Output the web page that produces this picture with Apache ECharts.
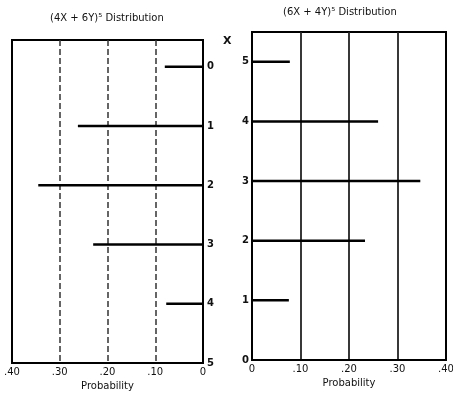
<!DOCTYPE html>
<html><head><meta charset="utf-8">
<script src="https://cdn.jsdelivr.net/npm/echarts@6/dist/echarts.min.js"></script>
<style>html,body{margin:0;padding:0;background:#fff}#c{width:453px;height:394px}</style>
</head><body><div id="c"></div>
<script>
var categories = [0, 1, 2, 3, 4, 5];
var leftValues = [0.08, 0.262, 0.345, 0.23, 0.077, 0];
var rightValues = [0, 0.076, 0.233, 0.347, 0.26, 0.078];
var xTicks = [0, 0.1, 0.2, 0.3, 0.4];
var leftTitle = '(4X + 6Y)\u2075 Distribution';
var rightTitle = '(6X + 4Y)\u2075 Distribution';
var yName = 'X';

var font = 'DejaVu Sans';
function fmtX(v){ return v === 0 ? '0' : '.' + Math.round(v*100); }
function seg(){
  return function(params, api){
    var a = api.coord([0, api.value(1)]);
    var b = api.coord([api.value(0), api.value(1)]);
    return {type:'line', shape:{x1:a[0],y1:a[1],x2:b[0],y2:b[1]}, style:{stroke:'#000', lineWidth:2.5}};
  };
}
function mk(vals){ return categories.map(function(c,i){ return [vals[i], c]; }).filter(function(d){return d[0]>0;}); }

var chart = echarts.init(document.getElementById('c'), null, {renderer:'canvas'});
var axisLine = {show:true, onZero:false, lineStyle:{color:'#000', width:2}};
chart.setOption({
  animation:false,
  graphic:[
    {type:'text', left:50, top:13, style:{text:leftTitle, font:'10px "DejaVu Sans"', fill:'#111'}},
    {type:'text', left:283, top:7, style:{text:rightTitle, font:'10px "DejaVu Sans"', fill:'#111'}},
    {type:'text', left:223, top:36, style:{text:yName, font:'bold 11px "DejaVu Sans"', fill:'#111'}}
  ],
  grid:[
    {left:12, right:250, top:40, bottom:31, show:true, borderColor:'#000', borderWidth:2, outerBoundsMode:'none', containLabel:false},
    {left:252, right:7, top:32, bottom:34, show:true, borderColor:'#000', borderWidth:2, outerBoundsMode:'none', containLabel:false}
  ],
  xAxis:[
    {gridIndex:0, type:'value', inverse:true, min:0, max:0.4, interval:0.1,
     name:'Probability', nameLocation:'middle', nameGap:18, nameTextStyle:{fontFamily:font, fontSize:10, color:'#111'},
     axisLine:axisLine, axisTick:{show:false},
     axisLabel:{formatter:fmtX, fontFamily:font, fontSize:10, color:'#111', margin:4, customValues:xTicks},
     splitLine:{show:true, showMinLine:false, showMaxLine:false, lineStyle:{color:'#333', width:1.5, type:[6,3]}}},
    {gridIndex:1, type:'value', min:0, max:0.4, interval:0.1,
     name:'Probability', nameLocation:'middle', nameGap:18, nameTextStyle:{fontFamily:font, fontSize:10, color:'#111'},
     axisLine:axisLine, axisTick:{show:false},
     axisLabel:{formatter:fmtX, fontFamily:font, fontSize:10, color:'#111', margin:4, customValues:xTicks},
     splitLine:{show:true, showMinLine:false, showMaxLine:false, lineStyle:{color:'#222', width:1.8}}}
  ],
  yAxis:[
    {gridIndex:0, type:'value', inverse:true, position:'right', min:-0.45, max:5,
     axisLine:axisLine, axisTick:{show:false}, splitLine:{show:false},
     axisLabel:{customValues:categories, fontFamily:font, fontSize:10, fontWeight:'bold', color:'#111', margin:4}},
    {gridIndex:1, type:'value', position:'left', min:0, max:5.5,
     axisLine:axisLine, axisTick:{show:false}, splitLine:{show:false},
     axisLabel:{customValues:categories, fontFamily:font, fontSize:10, fontWeight:'bold', color:'#111', margin:3}}
  ],
  series:[
    {type:'custom', xAxisIndex:0, yAxisIndex:0, renderItem:seg(), data:mk(leftValues), encode:{x:0,y:1}},
    {type:'custom', xAxisIndex:1, yAxisIndex:1, renderItem:seg(), data:mk(rightValues), encode:{x:0,y:1}}
  ]
});
</script></body></html>
